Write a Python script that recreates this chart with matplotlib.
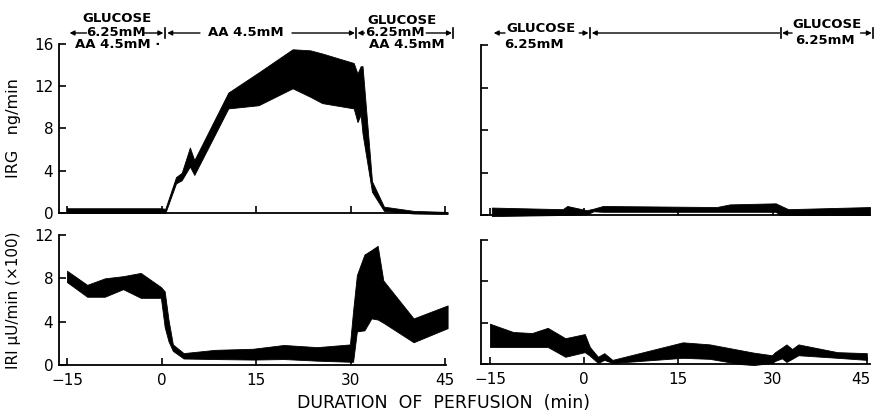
import matplotlib.pyplot as plt
from matplotlib import transforms

# IRG output with arginine (AA 4.5mM) between 0 and 30 min
irg_aa_t = [-15, -0.2, 0.6, 2.3, 3.2, 4.5, 5.2, 10.6, 15.4, 20.8, 23.6, 25.5,
            30.5, 31.1, 31.6, 31.9, 33.4, 35.3, 40, 45.4]
irg_aa_lo = [0, 0, 0, 2.8, 3.1, 4.4, 3.6, 9.9, 10.2, 11.8, 11.0, 10.4,
             9.9, 8.6, 9.3, 7.5, 2.0, 0.2, -0.05, -0.1]
irg_aa_hi = [0.45, 0.45, 0.4, 3.4, 3.8, 6.2, 5.0, 11.4, 13.3, 15.5, 15.4, 15.1,
             14.2, 13.2, 13.9, 13.9, 3.0, 0.6, 0.2, 0.1]

# IRI output, same perfusion
iri_aa_t = [-15, -11.8, -9.0, -6.1, -3.3, -0.1, 0.5, 1.1, 1.8, 3.5, 8.5, 14.5,
            19.4, 24.7, 29.9, 30.4, 31.0, 32.2, 33.3, 34.3, 35.2, 40, 45.4]
iri_aa_lo = [7.65, 6.3, 6.3, 7.0, 6.2, 6.2, 3.5, 2.2, 1.3, 0.6, 0.55, 0.5,
             0.55, 0.4, 0.3, 0.3, 3.1, 3.2, 4.3, 4.2, 3.9, 2.1, 3.4]
iri_aa_hi = [8.7, 7.4, 8.0, 8.2, 8.5, 7.2, 6.8, 4.2, 1.9, 1.1, 1.4, 1.5,
             1.85, 1.65, 1.9, 5.0, 8.3, 10.2, 10.6, 11.0, 7.8, 4.3, 5.5]

# control perfusion, glucose 6.25mM only
irg_glu_t = [-14.7, -3.4, -2.7, 0.4, 1.5, 3.0, 21.1, 23.2, 30.5, 31.2, 32.5, 45.5]
irg_glu_lo = [-0.1, 0.0, 0.0, 0.05, 0.35, 0.3, 0.3, 0.3, 0.3, 0.0, 0.0, 0.0]
irg_glu_hi = [0.7, 0.55, 0.85, 0.45, 0.6, 0.85, 0.75, 1.0, 1.1, 0.9, 0.55, 0.75]

iri_glu_t = [-15, -11.3, -8.3, -5.8, -3.0, 0.1, 0.9, 2.2, 3.2, 4.5, 15.7, 20,
             24.8, 27, 29.9, 30.4, 31.5, 32.2, 33.1, 34.1, 40.3, 45]
iri_glu_lo = [1.65, 1.65, 1.65, 1.65, 0.7, 1.15, 0.8, 0.1, 0.4, 0.1, 0.6, 0.5,
              0.0, -0.1, 0.1, 0.3, 0.55, 0.2, 0.5, 0.85, 0.6, 0.4]
iri_glu_hi = [3.9, 3.1, 3.0, 3.5, 2.5, 2.9, 1.65, 0.7, 1.05, 0.4, 2.1, 1.9,
              1.35, 1.1, 0.85, 1.15, 1.6, 1.9, 1.45, 1.9, 1.15, 1.05]

time_ticks = [-15, 0, 15, 30, 45]
irg_ticks = [0, 4, 8, 12, 16]
iri_ticks = [0, 4, 8, 12]

FONT = 'DejaVu Sans'
H = 413.0


def fy(py):
    # header rows are placed in figure pixels from the top
    return 1 - py / H


def setup_axes(ax, xlim, ylim, yticks, xlabels, ylabels):
    ax.set_xlim(*xlim)
    ax.set_ylim(*ylim)
    for s in ['top', 'right']:
        ax.spines[s].set_visible(False)
    for s in ['left', 'bottom']:
        ax.spines[s].set_linewidth(1.3)
    ax.set_xticks(time_ticks)
    ax.set_yticks(yticks)
    ax.tick_params(direction='in', length=5, width=1.2, labelsize=11,
                   colors='black')
    ax.tick_params(axis='x', pad=6)
    ax.tick_params(axis='y', pad=4)
    if not xlabels:
        ax.set_xticklabels([])
    if not ylabels:
        ax.set_yticklabels([])


def band(ax, t, lo, hi):
    ax.fill_between(t, lo, hi, color='black', lw=0.6, clip_on=False)


def header_text(ax, x, py, s):
    tr = transforms.blended_transform_factory(ax.transData, fig.transFigure)
    ax.text(x, fy(py), s, transform=tr, ha='center', va='center',
            fontsize=9.5, fontweight='bold', family=FONT, clip_on=False)


def header_arrow(ax, x0, x1, py):
    tr = transforms.blended_transform_factory(ax.transData, fig.transFigure)
    ax.annotate('', xy=(x1, fy(py)), xytext=(x0, fy(py)), xycoords=tr,
                textcoords=tr, annotation_clip=False,
                arrowprops=dict(arrowstyle='-|>', color='black', lw=1,
                                shrinkA=0, shrinkB=0, mutation_scale=7))


def header_bar(ax, x, py):
    tr = transforms.blended_transform_factory(ax.transData, fig.transFigure)
    ax.plot([x, x], [fy(py - 5), fy(py + 5)], transform=tr, color='black',
            lw=1.2, clip_on=False)


fig = plt.figure(figsize=(8.74, 4.13), dpi=100)

ax_irg_aa = fig.add_axes([0.0673, 0.4843, 0.4434, 0.4092])
ax_iri_aa = fig.add_axes([0.0673, 0.1162, 0.4434, 0.3148])
ax_irg_glu = fig.add_axes([0.5503, 0.4794, 0.4451, 0.4116])
ax_iri_glu = fig.add_axes([0.5503, 0.1186, 0.4451, 0.3002])

left_xlim = (-16.3, 45.2)
right_xlim = (-16.43, 45.5)

setup_axes(ax_irg_aa, left_xlim, (0, 16), irg_ticks, False, True)
setup_axes(ax_iri_aa, left_xlim, (0, 12), iri_ticks, True, True)
setup_axes(ax_irg_glu, right_xlim, (0, 16), irg_ticks, False, False)
setup_axes(ax_iri_glu, right_xlim, (0, 12), iri_ticks, True, False)

# the last label sits at the page edge, nudge it inwards
last = ax_iri_glu.get_xticklabels()[-1]
last.set_transform(last.get_transform()
                   + transforms.ScaledTranslation(-4 / 72, 0, fig.dpi_scale_trans))

band(ax_irg_aa, irg_aa_t, irg_aa_lo, irg_aa_hi)
band(ax_iri_aa, iri_aa_t, iri_aa_lo, iri_aa_hi)
band(ax_irg_glu, irg_glu_t, irg_glu_lo, irg_glu_hi)
band(ax_iri_glu, iri_glu_t, iri_glu_lo, iri_glu_hi)

ax_irg_aa.set_ylabel('IRG   ng/min', fontsize=11.5, family=FONT)
ax_iri_aa.set_ylabel('IRI \u03bcU/min (\u00d7100)', fontsize=11, family=FONT)
ax_irg_aa.yaxis.set_label_coords(-0.098, 0.5)
ax_iri_aa.yaxis.set_label_coords(-0.098, 0.5)

fig.text(0.508, fy(403), 'DURATION  OF  PERFUSION  (min)', ha='center',
         va='center', fontsize=12.5, family=FONT)

# perfusion schedule, arginine experiment
ax = ax_irg_aa
header_text(ax, -7.1, 18, 'GLUCOSE')
header_text(ax, -7.3, 33, '6.25mM')
header_arrow(ax, -11.9, -14.6, 33)
header_arrow(ax, -2.8, 0.3, 33)
header_bar(ax, 0.6, 33)
header_text(ax, -7.0, 45, 'AA 4.5mM \u00b7')
header_arrow(ax, 6.1, 0.9, 33)
header_text(ax, 13.4, 33, 'AA 4.5mM')
header_arrow(ax, 20.7, 30.7, 33)
header_bar(ax, 30.9, 33)
header_text(ax, 38.2, 21, 'GLUCOSE')
header_arrow(ax, 32.2, 31.1, 33)
header_text(ax, 37.1, 33, '6.25mM')
header_arrow(ax, 42.0, 46.1, 33)
header_bar(ax, 46.3, 33)
header_text(ax, 39.0, 45, 'AA 4.5mM')

# perfusion schedule, glucose control
ax = ax_irg_glu
header_arrow(ax, -12.6, -14.4, 33)
header_text(ax, -6.9, 29, 'GLUCOSE')
header_text(ax, -8.0, 45, '6.25mM')
header_arrow(ax, -0.8, 0.7, 33)
header_bar(ax, 0.9, 33)
header_arrow(ax, 31.1, 1.2, 33)
header_bar(ax, 31.3, 33)
header_arrow(ax, 33.1, 31.5, 33)
header_text(ax, 38.6, 25, 'GLUCOSE')
header_text(ax, 38.3, 40, '6.25mM')
header_arrow(ax, 44.0, 45.8, 33)
header_bar(ax, 46.0, 33)

plt.savefig('out.png', dpi=100)
